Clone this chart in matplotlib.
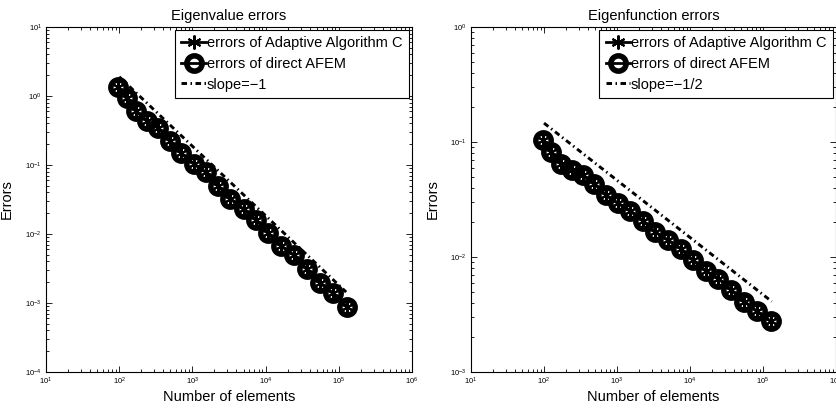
import matplotlib
matplotlib.use("Agg")
import matplotlib.pyplot as plt
from matplotlib.ticker import LogLocator, NullFormatter

plt.rcParams['font.family'] = ['Liberation Sans', 'DejaVu Sans']
plt.rcParams['mathtext.default'] = 'regular'

# ---- data ----
n_elements = [97, 126, 169, 243, 340, 491, 705, 1043, 1515, 2264,
              3296, 5000, 7460, 10870, 16360, 24550, 36600, 55600, 82800, 128500]
eigval_err = [1.36, 0.925, 0.607, 0.43, 0.348, 0.223, 0.148, 0.104, 0.079, 0.0496,
              0.0325, 0.0228, 0.0160, 0.0102, 0.0067, 0.0049, 0.00308, 0.00197, 0.00138, 0.000885]
eigfun_err = [0.105, 0.0819, 0.0649, 0.0575, 0.0514, 0.0435, 0.0345, 0.0292, 0.0252, 0.0207,
              0.0166, 0.0140, 0.0118, 0.0094, 0.0076, 0.0065, 0.00518, 0.0041, 0.00336, 0.00275]
slope1_x = [100, 126000]
slope1_y = [1.9, 0.00144]
slope2_x = [100, 132000]
slope2_y = [0.146, 0.0041]

panels = [
    dict(title='Eigenvalue errors', y=eigval_err, sx=slope1_x, sy=slope1_y,
         slabel='slope=\u22121', ylim=(1e-4, 1e1), pos=[46/836, 39/411, 366/836, 345/411]),
    dict(title='Eigenfunction errors', y=eigfun_err, sx=slope2_x, sy=slope2_y,
         slabel='slope=\u22121/2', ylim=(1e-3, 1e0), pos=[471/836, 39/411, 365/836, 345/411]),
]

fig = plt.figure(figsize=(8.36, 4.11), dpi=100)

for p in panels:
    ax = fig.add_axes(p['pos'])
    ax.set_xscale('log')
    ax.set_yscale('log')
    ax.plot(n_elements, p['y'], color='black', lw=2, marker=(6, 2, 0), ms=10, mew=1.5,
            label='errors of Adaptive Algorithm C')
    ax.plot(n_elements, p['y'], color='black', lw=2, marker='o', ms=11, mew=4,
            mfc='none', label='errors of direct AFEM')
    ax.plot(p['sx'], p['sy'], color='black', lw=2.1, ls=(0, (1.9, 1.2, 0.5, 1.2)),
            label=p['slabel'])
    ax.set_xlim(1e1, 1e6)
    ax.set_ylim(*p['ylim'])
    ax.set_title(p['title'], fontsize=10.5, pad=5)
    ax.set_xlabel('Number of elements', fontsize=10.5, labelpad=2)
    ax.set_ylabel('Errors', fontsize=10.5, labelpad=8)
    ax.xaxis.set_major_locator(LogLocator(base=10, numticks=10))
    ax.yaxis.set_major_locator(LogLocator(base=10, numticks=10))
    ax.xaxis.set_minor_locator(LogLocator(base=10, subs=range(2, 10), numticks=10))
    ax.yaxis.set_minor_locator(LogLocator(base=10, subs=range(2, 10), numticks=10))
    ax.xaxis.set_minor_formatter(NullFormatter())
    ax.yaxis.set_minor_formatter(NullFormatter())
    ax.tick_params(which='both', direction='in', top=True, right=True, labelsize=5.5, width=0.6)
    ax.tick_params(which='major', length=4, pad=3)
    ax.tick_params(which='minor', length=2)
    for s in ax.spines.values():
        s.set_linewidth(0.8)
    leg = ax.legend(loc='upper right', fontsize=10.5, frameon=True, fancybox=False,
                    edgecolor='black', framealpha=1, borderaxespad=0.2, handlelength=1.65,
                    handletextpad=0.1, labelspacing=0.45, borderpad=0.45)
    leg.get_frame().set_linewidth(0.8)

fig.savefig('out.png', dpi=100)
